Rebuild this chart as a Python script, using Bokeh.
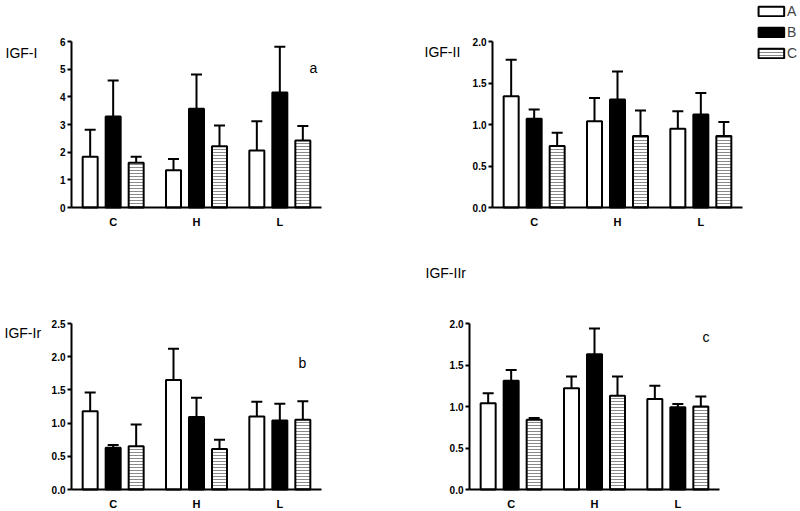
from bokeh.plotting import figure
from bokeh.models import (ColumnDataSource, Range1d, Whisker, TeeHead, LinearAxis,
                          FixedTicker, Label, Legend, LegendItem)
from bokeh.transform import dodge
from bokeh.layouts import column, row
from bokeh.embed import file_html
from bokeh.resources import INLINE

groups = ["C", "H", "L"]
series = ["A", "B", "C"]

# IGF-I (panel a)
igf1_A = [1.83, 1.35, 2.06]
igf1_A_err = [0.98, 0.40, 1.06]
igf1_B = [3.29, 3.57, 4.16]
igf1_B_err = [1.30, 1.24, 1.65]
igf1_C = [1.62, 2.21, 2.42]
igf1_C_err = [0.21, 0.75, 0.53]

# IGF-II
igf2_A = [1.34, 1.04, 0.95]
igf2_A_err = [0.44, 0.28, 0.21]
igf2_B = [1.07, 1.30, 1.12]
igf2_B_err = [0.11, 0.34, 0.26]
igf2_C = [0.74, 0.86, 0.86]
igf2_C_err = [0.16, 0.31, 0.17]

# IGF-Ir (panel b)
igf1r_A = [1.18, 1.65, 1.10]
igf1r_A_err = [0.28, 0.47, 0.22]
igf1r_B = [0.63, 1.09, 1.04]
igf1r_B_err = [0.04, 0.29, 0.25]
igf1r_C = [0.65, 0.61, 1.05]
igf1r_C_err = [0.33, 0.14, 0.28]

# IGF-IIr (panel c)
igf2r_A = [1.04, 1.22, 1.09]
igf2r_A_err = [0.12, 0.14, 0.16]
igf2r_B = [1.31, 1.63, 0.99]
igf2r_B_err = [0.13, 0.31, 0.04]
igf2r_C = [0.84, 1.13, 1.00]
igf2r_C_err = [0.02, 0.23, 0.12]

FONT = "Liberation Sans"
OFFS = [-0.276, 0.0, 0.276]
BAR_W = 0.18
UNIT_PX = 250.0 / len(groups)   # pixels per group on the x axis
STYLES = [
    dict(fill_color="white", line_color="black"),
    dict(fill_color="black", line_color="black"),
    dict(fill_color="white", line_color="black", hatch_pattern="horizontal_line",
         hatch_color="#8a8a8a", hatch_scale=3.0, hatch_weight=1.0),
]


def panel(vals, errs, ymax, step, fmt, width, height, ax_x, ax_top, name, name_px, tag=None, tag_px=None):
    # ax_x: pixel x of y-axis within figure; ax_top: pixel y of ymax within figure
    frame_h = 166.0
    ypx = frame_h / ymax
    zero_y = ax_top + frame_h
    x0 = -ax_x / UNIT_PX
    x1 = (width - ax_x) / UNIT_PX
    y0 = -(height - zero_y) / ypx
    y1 = ymax + ax_top / ypx

    def to_data(px, py):
        return (px - ax_x) / UNIT_PX, (zero_y - py) / ypx

    p = figure(x_range=Range1d(x0, x1), y_range=Range1d(y0, y1),
               width=width, height=height, output_backend="svg", toolbar_location=None,
               x_axis_location=None, y_axis_location=None, title=None,
               min_border=0, min_border_left=0, min_border_right=0,
               min_border_top=0, min_border_bottom=0,
               background_fill_color="white", border_fill_color="white")
    p.outline_line_color = None
    p.xgrid.grid_line_color = None
    p.ygrid.grid_line_color = None

    xpos = [i + 0.5 for i in range(len(groups))]
    data = dict(x=xpos)
    for s, v, e in zip(series, vals, errs):
        data[s] = v
        data[s + "_hi"] = [a + b for a, b in zip(v, e)]
    src = ColumnDataSource(data)
    rs = []
    for s, off, st in zip(series, OFFS, STYLES):
        r = p.vbar(x=dodge("x", off), top=s, width=BAR_W, bottom=0,
                   source=src, line_width=2, **st)
        rs.append(r)
        w = Whisker(source=src, base=dodge("x", off), lower=s, upper=s + "_hi",
                    line_width=2, line_color="black",
                    upper_head=TeeHead(size=11, line_width=2, line_color="black"), lower_head=None)
        p.add_layout(w)

    ticks = []
    t = 0.0
    while t <= ymax + 1e-9:
        ticks.append(round(t, 3))
        t += step

    yax = LinearAxis(fixed_location=0, bounds=(0, ymax), ticker=FixedTicker(ticks=ticks))
    yax.major_label_overrides = {tk: fmt.format(tk) for tk in ticks}
    yax.minor_tick_line_color = None
    yax.major_tick_in = 0
    yax.major_tick_out = 4
    yax.major_label_standoff = 2
    yax.major_label_text_font_size = "10px"

    xax = LinearAxis(fixed_location=0, bounds=(0, len(groups)), ticker=FixedTicker(ticks=xpos))
    xax.major_label_overrides = {xv: g for xv, g in zip(xpos, groups)}
    xax.minor_tick_line_color = None
    xax.major_tick_line_color = None
    xax.major_tick_in = 0
    xax.major_tick_out = 0
    xax.major_label_standoff = 8
    xax.major_label_text_font_size = "11px"

    for ax in (xax, yax):
        ax.axis_line_width = 2
        ax.major_tick_line_width = 2
        ax.major_label_text_font = FONT
        ax.major_label_text_font_style = "bold"
        ax.major_label_text_color = "black"
    p.add_layout(yax, "left")
    p.add_layout(xax, "below")

    nx, ny = to_data(*name_px)
    p.add_layout(Label(x=nx, y=ny, text=name, text_font=FONT,
                       text_font_size="14px", text_baseline="middle", text_color="black"))
    if tag:
        tx, ty = to_data(*tag_px)
        p.add_layout(Label(x=tx, y=ty, text=tag, text_font=FONT,
                           text_font_size="14px", text_baseline="middle", text_color="black"))
    return p, rs


p1, _ = panel([igf1_A, igf1_B, igf1_C], [igf1_A_err, igf1_B_err, igf1_C_err], 6, 1, "{:.0f}",
              400, 258, 71, 41, "IGF-I", (5, 52), "a", (309, 67))
p2, rs2 = panel([igf2_A, igf2_B, igf2_C], [igf2_A_err, igf2_B_err, igf2_C_err], 2.0, 0.5, "{:.1f}",
                400, 258, 92, 41, "IGF-II", (24, 51))
p3, _ = panel([igf1r_A, igf1r_B, igf1r_C], [igf1r_A_err, igf1r_B_err, igf1r_C_err], 2.5, 0.5, "{:.1f}",
              400, 253, 71, 65, "IGF-Ir", (4, 74), "b", (298, 104))
p4, _ = panel([igf2r_A, igf2r_B, igf2r_C], [igf2r_A_err, igf2r_B_err, igf2r_C_err], 2.0, 0.5, "{:.1f}",
              400, 253, 69, 65, "IGF-IIr", (25, 14), "c", (302, 78))

legend = Legend(items=[LegendItem(label=s, renderers=[r]) for s, r in zip(series, rs2)],
                location="top_right", orientation="vertical",
                glyph_width=32, glyph_height=12, label_height=12, label_width=10,
                label_standoff=0, spacing=5, padding=0, margin=3,
                label_text_font=FONT, label_text_font_size="14px",
                border_line_color=None, background_fill_alpha=0)
p2.add_layout(legend)

layout = column(row(p1, p2), row(p3, p4))
open("out.html", "w").write(file_html(layout, INLINE))
